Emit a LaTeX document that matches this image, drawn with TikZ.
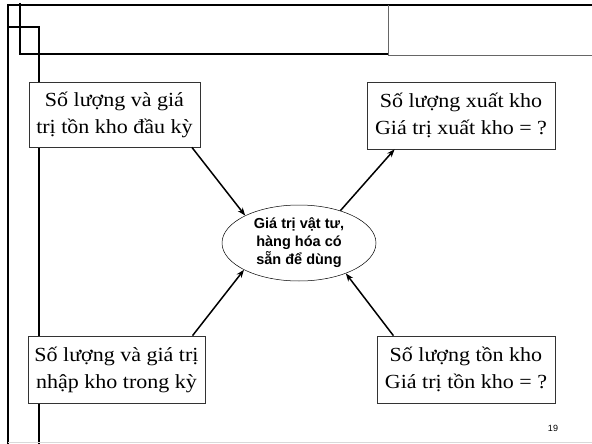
\documentclass[tikz,border=0pt]{standalone}
\usepackage{fontspec}
\setmainfont{Liberation Serif}[FakeStretch=1.1]
\newfontfamily\labelfont{Liberation Sans}
\usetikzlibrary{arrows.meta,shapes.geometric}
\begin{document}
\begin{tikzpicture}[
x=1pt,y=-1pt,
frame/.style={line width=1.5pt,black},
thinframe/.style={line width=0.6pt,black!60},
box/.style={draw=black!80,line width=0.7pt,fill=white,align=center,
  font=\fontsize{20}{27}\selectfont,inner sep=0pt},
stock/.style={draw,ellipse,line width=0.5pt,minimum width=154pt,minimum height=76pt,
  align=center,inner sep=0pt,font=\labelfont\bfseries\fontsize{14.5}{18}\selectfont},
flow/.style={line width=1.5pt,-{Stealth[length=8pt,width=6pt]}}]
\useasboundingbox (0,0) rectangle (592,444);
\draw[frame] (8,444) -- (8,5) -- (592,5);
\draw[frame] (20,3) -- (20,54) -- (388,54);
\draw[frame,line width=2.4pt] (8,27) -- (39,27) -- (39,444);
\draw[thinframe] (388,5) -- (388,55) -- (592,55);
\draw[black!15] (8,442) -- (592,442);
\node[box,minimum width=171pt,minimum height=65pt] (start) at (114.5,114.5) {Số lượng và giá\\trị tồn kho đầu kỳ};
\node[box,minimum width=188pt,minimum height=67pt] (out) at (461,115.5) {Số lượng xuất kho\\Giá trị xuất kho = ?};
\node[box,minimum width=177pt,minimum height=67pt] (in) at (116.5,369.5) {Số lượng và giá trị\\nhập kho trong kỳ};
\node[box,minimum width=178pt,minimum height=67pt] (end) at (466,369.5) {Số lượng tồn kho\\Giá trị tồn kho = ?};
\node[stock] (avail) at (299,243) {Giá trị vật tư,\\hàng hóa có\\sẵn để dùng};
\draw[flow] (start.-23) -- (avail.153);
\draw[flow] (in.24) -- (avail.206);
\draw[flow] (avail.38) -- (out.207);
\draw[flow] (end.155) -- (avail.327);
\node[font=\labelfont\fontsize{9}{10}\selectfont] (page) at (553,428) {19};
\end{tikzpicture}
\end{document}
